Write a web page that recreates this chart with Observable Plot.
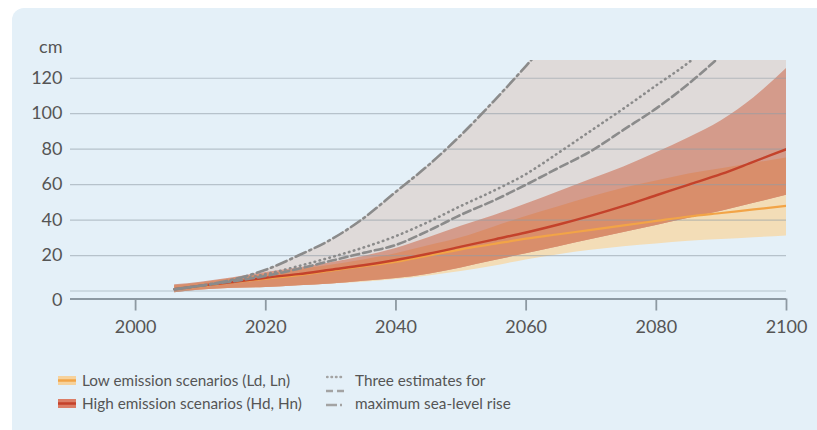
<!DOCTYPE html>
<html><head><meta charset="utf-8">
<script src="https://cdn.jsdelivr.net/npm/d3@7"></script>
<script src="https://cdn.jsdelivr.net/npm/@observablehq/plot@0.6"></script>
<style>
body{margin:0;background:#fff;font-family:Lato,"Open Sans",sans-serif;}
#wrap{position:relative;width:817px;height:430px;overflow:hidden;}
#panel{position:absolute;left:12px;top:8px;width:830px;height:450px;background:#e4f0f8;border-radius:12px;}
#chart{position:absolute;left:0;top:0;}
.lg{position:absolute;font-size:15.3px;line-height:18px;color:#555;white-space:nowrap;}
.sw{position:absolute;}
</style></head>
<body><div id="wrap"><div id="panel"></div><div id="chart"></div>
<svg class="sw" style="left:58px;top:376px" width="18" height="9"><rect x="0" y="0" width="18" height="9" fill="#f6d29c"/><line x1="0" x2="18" y1="4.5" y2="4.5" stroke="#f2a447" stroke-width="2.5"/></svg>
<div class="lg" style="left:82px;top:371px">Low emission scenarios (Ld, Ln)</div>
<svg class="sw" style="left:58px;top:399px" width="18" height="9"><rect x="0" y="0" width="18" height="9" fill="#dc7d66"/><line x1="0" x2="18" y1="4.5" y2="4.5" stroke="#c4422b" stroke-width="2.5"/></svg>
<div class="lg" style="left:82px;top:394px">High emission scenarios (Hd, Hn)</div>
<svg class="sw" style="left:326px;top:372px" width="18" height="40">
<line x1="1" x2="17" y1="5" y2="5" stroke="#a3a3a3" stroke-width="2.5" stroke-dasharray="0.5 4" stroke-linecap="round"/>
<line x1="0" x2="18" y1="19" y2="19" stroke="#a3a3a3" stroke-width="2.5" stroke-dasharray="7 4"/>
<line x1="0" x2="18" y1="33" y2="33" stroke="#a3a3a3" stroke-width="2.5" stroke-dasharray="11 3 2 3"/>
</svg>
<div class="lg" style="left:355px;top:371px">Three estimates for</div>
<div class="lg" style="left:355px;top:394px">maximum sea-level rise</div>
</div>
<script>
const years     = [2006,2010,2015,2020,2025,2030,2035,2040,2045,2050,2055,2060,2065,2070,2075,2080,2085,2090,2095,2100];
const highUpper = [3.5,5,7.5,10.5,13,16,19.5,24,30,36.5,42.5,49,56,63,70,78,86.5,96,109,125.5];
const highLine  = [1,3,5,7.5,9.5,12,14.5,17.5,21,25,29,33,37.5,42.5,48,54,60,66,73,80];
const highLower = [-1,0.5,1.5,2,3,4,5.5,7,9.5,13,17,21,25,29,33,37,41,45,49.5,54];
const lowUpper  = [3,4.5,7,9.5,12,14.5,17.5,21,25.5,30,36,42,47.5,53,58,62,66,69,72,75];
const lowLine   = [1,2.8,5,7,9,11.5,14,16.5,20,23.5,26.5,29.5,32,34.5,37,39.5,42,44,46,48];
const lowLower  = [-0.5,0.5,1.5,2,3,4,5,6.5,8.5,11,14,17.5,20.5,23,25,26.5,28,29,30,31];
// three estimates for maximum sea-level rise (lines run off the top of the chart)
const dotted    = [1,3,6,9.5,14,19,24.5,31,39,48,56.5,66,78,90.5,103,116,129,145];
const dashed    = [1,3,5.5,8.5,12.5,17,21.5,26,34,43,51,60,69.5,79,91,103,117,133];
const dashDot   = [1,3,6.5,12,20,29,41,56,71,88,107,127,148];
const yMax = 130;
const yTicks = [20,40,60,80,100,120];
const xTicks = [2000,2020,2040,2060,2080,2100];

const table = years.map((yr,i)=>({
  year: yr, hu: highUpper[i], hl: highLower[i], hm: highLine[i],
  lu: lowUpper[i], ll: lowLower[i], lm: lowLine[i],
  ov: Math.min(lowUpper[i], highUpper[i]),
  top: i < dashDot.length ? dashDot[i] : yMax
}));
const lineData = arr => arr.map((v,i)=>({year: years[i], v}));

const grey = "#8b8b8b";
const curve = "monotone-x";
const fs = 18;
const plot = Plot.plot({
  width: 817, height: 345,
  marginLeft: 70, marginRight: 31, marginTop: 60, marginBottom: 46.5,
  insetBottom: 8,
  style: {fontFamily: "Lato, 'Open Sans', sans-serif", fontSize: fs + "px", background: "transparent", color: "#555"},
  x: {domain: [1990, 2100], axis: null},
  y: {domain: [0, yMax], axis: null},
  marks: [
    Plot.areaY(table, {x: "year", y1: "hl", y2: "top", fill: "#dfdad9", curve, clip: true}),
    Plot.areaY(table, {x: "year", y1: "ll", y2: "lu", fill: "#f3ddb7", curve, clip: true}),
    Plot.areaY(table, {x: "year", y1: "hl", y2: "hu", fill: "#d49b8b", curve, clip: true}),
    Plot.areaY(table, {x: "year", y1: "hl", y2: "ov", fill: "#d98e6b", curve, clip: true}),
    Plot.ruleY([0, ...yTicks], {stroke: "#8f9ca6", strokeOpacity: 0.55, strokeWidth: 1.2}),
    Plot.ruleY([0], {dy: 8, stroke: "#8d99a2", strokeWidth: 2.2}),
    Plot.axisX({ticks: xTicks, tickSize: 12, tickPadding: 9, tickFormat: d => String(d), stroke: "#8d99a2", strokeWidth: 1.8, fill: "#555", fontSize: fs, label: null}),
    Plot.text(yTicks, {y: d => d, frameAnchor: "left", dx: -8, textAnchor: "end", text: d => String(d), fill: "#555", fontSize: fs}),
    Plot.text([0], {y: d => d, frameAnchor: "left", dx: -8, dy: 9, textAnchor: "end", text: d => String(d), fill: "#555", fontSize: fs}),
    Plot.text(["cm"], {frameAnchor: "top-left", dx: -8, dy: -20, textAnchor: "end", fill: "#555", fontSize: fs}),
    Plot.lineY(lineData(lowLine), {x: "year", y: "v", stroke: "#f2a447", strokeWidth: 2.2, curve, clip: true}),
    Plot.lineY(lineData(highLine), {x: "year", y: "v", stroke: "#c4422b", strokeWidth: 2.4, curve, clip: true}),
    Plot.lineY(lineData(dotted), {x: "year", y: "v", stroke: grey, strokeWidth: 2.6, strokeDasharray: "0.5 4.6", strokeLinecap: "round", curve, clip: true}),
    Plot.lineY(lineData(dashed), {x: "year", y: "v", stroke: grey, strokeWidth: 2.6, strokeDasharray: "8 4", curve, clip: true}),
    Plot.lineY(lineData(dashDot), {x: "year", y: "v", stroke: grey, strokeWidth: 2.6, strokeDasharray: "11 4 2 4", curve, clip: true})
  ]
});
document.getElementById("chart").appendChild(plot);
</script>
</body></html>
